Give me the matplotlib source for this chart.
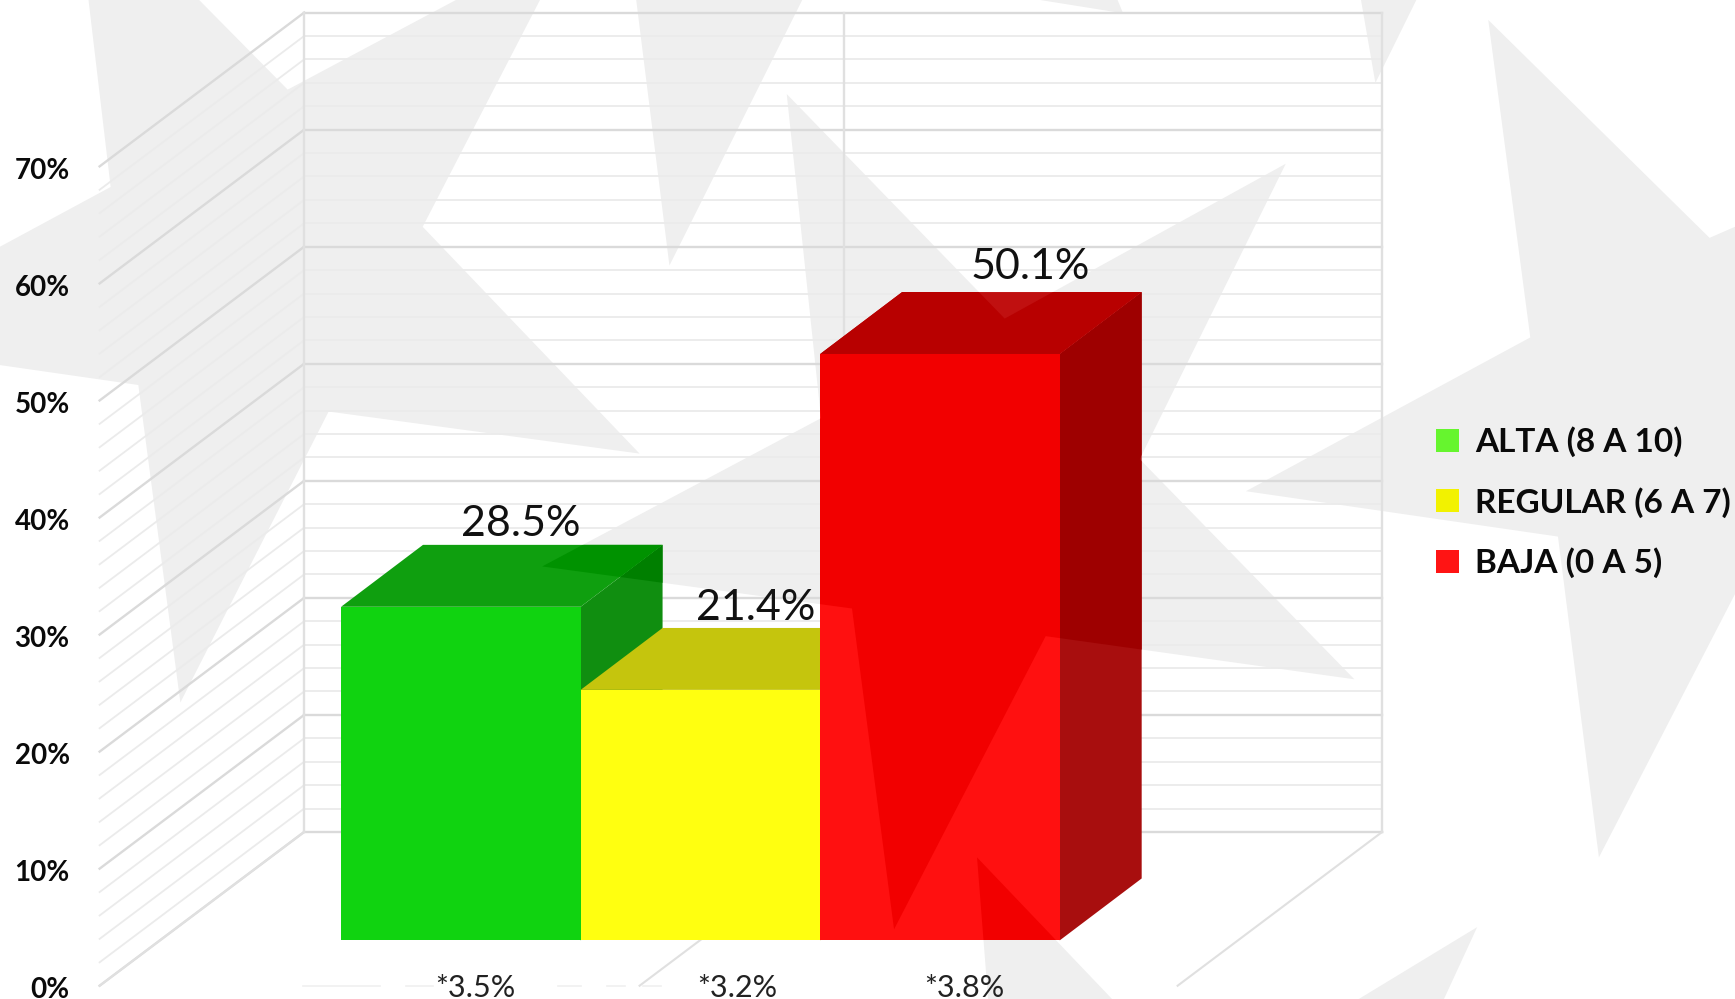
import matplotlib
matplotlib.use('Agg')
import matplotlib.pyplot as plt
from matplotlib.patches import Polygon, Patch
from matplotlib.path import Path

plt.rcParams['font.family'] = ['Lato', 'DejaVu Sans']

# data
categories = ['ALTA (8 A 10)', 'REGULAR (6 A 7)', 'BAJA (0 A 5)']
values = [28.5, 21.4, 50.1]
notes = ['*3.5%', '*3.2%', '*3.8%']
y_ticks = [0, 10, 20, 30, 40, 50, 60, 70]

# colours: (outside watermark, inside watermark)
front_cols = [('#10D310', '#10D310'), ('#FFFF10', '#FFFF10'), ('#FF1010', '#F20000')]
top_cols = [('#0F9F0F', '#009200'), ('#C5C50D', '#C5C50D'), ('#C01010', '#B80000')]
side_cols = [('#108E10', '#007F00'), ('#A0A000', '#A0A000'), ('#A80E0E', '#9E0000')]
legend_cols = ['#66F52E', '#F2F200', '#FF1414']

# layout, in units of one category (x) and one percent (y)
BAR_DX, BAR_DY = 0.342, 5.29      # bar depth
WALL_DX, WALL_DY = 0.854, 13.14   # floor depth
FLOOR_Y = -3.875                  # front edge of the floor
LEFT_X, RIGHT_X = -1.508, 2.992   # front corners of the floor
MID_X = 0.746
X0_PX, PX_PER_CAT = 416.5, 216.5
Y0_PX, PX_PER_PCT = 850.0, 10.58
REF_W, REF_H = 1568, 903


def px(points):
    # watermark outlines were traced in reference pixels
    return [((x - X0_PX) / PX_PER_CAT, (Y0_PX - y) / PX_PER_PCT) for x, y in points]


stars = [
    [(80, 0), (100, 169), (0, 223), (0, 330), (125, 348), (163, 635), (297, 372), (578, 410),
     (382, 205), (488, 0), (412, 0), (260, 81), (180, 0)],
    [(575, 0), (605, 240), (725, 0)],
    [(940, 0), (1015, 12), (1010, 0)],
    [(1230, 0), (1243, 75), (1280, 0)],
    [(711, 85), (908, 288), (1162, 148), (1030, 415), (1224, 614), (945, 575), (808, 840),
     (770, 550), (490, 512), (742, 378)],
    [(1345, 18), (1383, 305), (1126, 444), (1408, 485), (1445, 775), (1568, 537),
     (1568, 205), (1545, 215)],
    [(883, 775), (893, 903), (1005, 903)],
    [(1335, 838), (1228, 903), (1305, 903)],
]
floor_gaps = [(274, 343), (367, 391), (504, 525), (549, 565), (581, 597)]

fig = plt.figure(figsize=(17.35, 9.99), dpi=100, facecolor='white')
ax = fig.add_axes([0, 0, 1, 1])
ax.set_xlim(-X0_PX / PX_PER_CAT, (REF_W - X0_PX) / PX_PER_CAT)
ax.set_ylim((Y0_PX - REF_H) / PX_PER_PCT, Y0_PX / PX_PER_PCT)
ax.axis('off')

# ---- watermark ----
star_paths = []
for s in stars:
    pts = px(s)
    ax.add_patch(Polygon(pts, closed=True, facecolor='#EFEFEF', edgecolor='none', zorder=0))
    star_paths.append(Path(pts + [pts[0]], closed=True))
star_clip = Path.make_compound_path(*star_paths)

# ---- walls and grid ----
back_left = LEFT_X + WALL_DX
back_right = RIGHT_X + WALL_DX
back_floor = FLOOR_Y + WALL_DY
for v in range(0, 71, 2):
    major = v % 10 == 0
    col = '#DADADA' if major else '#EBEBEB'
    lw = 1.7 if major else 1.3
    ax.plot([back_left, back_right], [back_floor + v, back_floor + v], color=col, lw=lw, zorder=1)
    ax.plot([LEFT_X, back_left], [FLOOR_Y + v, back_floor + v], color=col, lw=lw, zorder=1)
for x in [back_left, MID_X + WALL_DX, back_right]:
    ax.plot([x, x], [back_floor, back_floor + 70], color='#E0E0E0', lw=1.7, zorder=1)
for x in [LEFT_X, MID_X, RIGHT_X]:
    ax.plot([x, x + WALL_DX], [FLOOR_Y, back_floor], color='#E0E0E0', lw=1.5, zorder=1)
for a, b in floor_gaps:
    ends = px([(a, 891), (b, 891)])
    ax.plot([ends[0][0], ends[1][0]], [ends[0][1], ends[1][1]], color='#F0F0F0', lw=1.2, zorder=1)

# ---- bars, back to front ----
def face(pts, cols, z):
    ax.add_patch(Polygon(pts, closed=True, facecolor=cols[0], edgecolor='none', zorder=z))
    inside = Polygon(pts, closed=True, facecolor=cols[1], edgecolor='none', zorder=z)
    ax.add_patch(inside)
    inside.set_clip_path(star_clip, ax.transData)


for i, v in enumerate(values):
    l, r = i - 0.5, i + 0.5
    z = 3 + i
    face([(r, 0), (r + BAR_DX, BAR_DY), (r + BAR_DX, v + BAR_DY), (r, v)], side_cols[i], z)
    face([(l, v), (r, v), (r + BAR_DX, v + BAR_DY), (l + BAR_DX, v + BAR_DY)], top_cols[i], z)
    face([(l, 0), (r, 0), (r, v), (l, v)], front_cols[i], z)

# ---- text ----
label_dx = [0.25, 0.23, 0.376]
label_dy = [7.1, 7.0, 7.45]
for i, v in enumerate(values):
    ax.text(i + label_dx[i], v + label_dy[i], f'{v}%', ha='center', va='center',
            fontsize=31, color='#111111', zorder=8)

note_x = [0.06, 1.155, 2.10]
for x, n in zip(note_x, notes):
    ax.text(x, FLOOR_Y - 0.2, n, ha='center', va='center', fontsize=22, color='#222222', zorder=8)

for v in y_ticks:
    ax.text(LEFT_X - 0.125, FLOOR_Y + v - 0.38, f'{v}%', ha='right', va='center',
            fontsize=20, fontweight='bold', color='#0A0A0A', zorder=8)

handles = [Patch(facecolor=c, edgecolor='none', label=n) for c, n in zip(legend_cols, categories)]
ax.legend(handles=handles, loc='center left', bbox_to_anchor=(0.8105, 0.4972), frameon=False,
          prop={'size': 24, 'weight': 'bold'}, handlelength=0.68, handleheight=0.68,
          handletextpad=0.48, labelspacing=0.886, labelcolor='#0A0A0A')

plt.savefig('out.png', dpi=100, facecolor='white')
plt.close()
